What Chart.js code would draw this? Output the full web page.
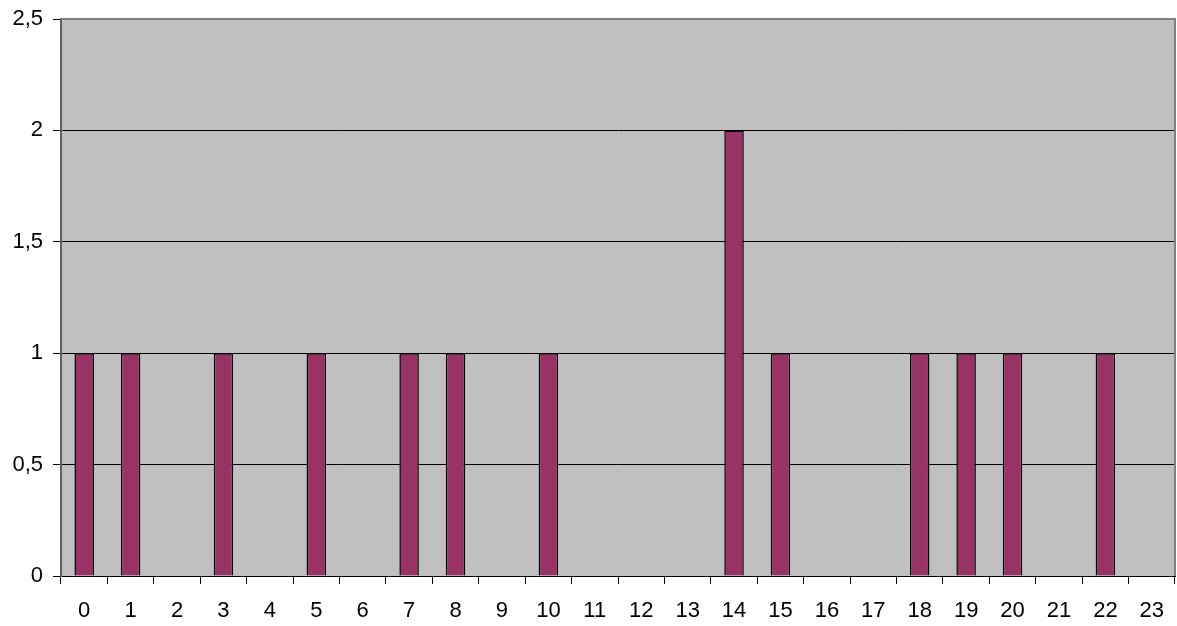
<!DOCTYPE html>
<html>
<head>
<meta charset="utf-8">
<script src="https://cdn.jsdelivr.net/npm/chart.js@4/dist/chart.umd.min.js"></script>
<style>
  html, body { margin: 0; padding: 0; background: #ffffff; }
  #wrap { width: 1177px; height: 626px; position: relative; }
</style>
</head>
<body>
<div id="wrap"><canvas id="chart"></canvas></div>
<script>
// Hours of the day and their counts
const hours = ['0','1','2','3','4','5','6','7','8','9','10','11','12','13','14','15','16','17','18','19','20','21','22','23'];
const counts = [1, 1, 0, 1, 0, 1, 0, 1, 1, 0, 1, 0, 0, 0, 2, 1, 0, 0, 1, 1, 1, 0, 1, 0];
const yTicks = [0, 0.5, 1, 1.5, 2, 2.5];

// Grey plot background with a thin frame on top and right
const plotFrame = {
  id: 'plotFrame',
  beforeDraw(chart) {
    const { ctx, chartArea: a } = chart;
    ctx.save();
    ctx.fillStyle = '#C0C0C0';
    ctx.fillRect(a.left, a.top, a.right - a.left, a.bottom - a.top);
    ctx.restore();
  },
  afterDatasetsDraw(chart) {
    const { ctx, chartArea: a } = chart;
    ctx.save();
    ctx.strokeStyle = '#808080';
    ctx.lineWidth = 2;
    ctx.beginPath();
    ctx.moveTo(a.left, a.top);
    ctx.lineTo(a.right, a.top);
    ctx.lineTo(a.right, a.bottom);
    ctx.stroke();
    ctx.restore();
  }
};

const fmt = v => String(v).replace('.', ',');
const labelFont = { family: 'Liberation Sans, Arial, sans-serif', size: 22 };

new Chart(document.getElementById('chart'), {
  type: 'bar',
  data: {
    labels: hours,
    datasets: [{
      data: counts,
      backgroundColor: '#993366',
      borderColor: '#000000',
      borderWidth: 1.5,
      borderSkipped: 'bottom',
      barPercentage: 0.42,
      categoryPercentage: 1.0
    }]
  },
  plugins: [plotFrame],
  options: {
    responsive: true,
    maintainAspectRatio: false,
    animation: false,
    devicePixelRatio: 1,
    layout: { padding: { top: 19, right: 2, left: 0, bottom: 0 } },
    plugins: { legend: { display: false }, tooltip: { enabled: false } },
    scales: {
      x: {
        offset: true,
        grid: {
          offset: true,
          drawOnChartArea: false,
          drawTicks: true,
          tickLength: 8,
          color: '#000000',
          lineWidth: 1
        },
        border: { display: true, color: '#000000', width: 1 },
        ticks: {
          color: '#000000',
          font: labelFont,
          padding: 14,
          maxRotation: 0,
          autoSkip: false
        },
        afterFit(scale) {
          scale.height = 50;
          scale.paddingLeft = 0;
          scale.paddingRight = 0;
        }
      },
      y: {
        min: 0,
        max: 2.5,
        afterBuildTicks(scale) { scale.ticks = yTicks.map(v => ({ value: v })); },
        grid: {
          color: '#000000',
          lineWidth: 1,
          drawTicks: true,
          tickLength: 8,
          tickColor: '#000000'
        },
        border: { display: true, color: '#606060', width: 2 },
        ticks: {
          color: '#000000',
          font: labelFont,
          padding: 10,
          callback: v => fmt(v)
        },
        afterFit(scale) {
          scale.width = 61;
          scale.paddingTop = 0;
          scale.paddingBottom = 0;
        }
      }
    }
  }
});
</script>
</body>
</html>
